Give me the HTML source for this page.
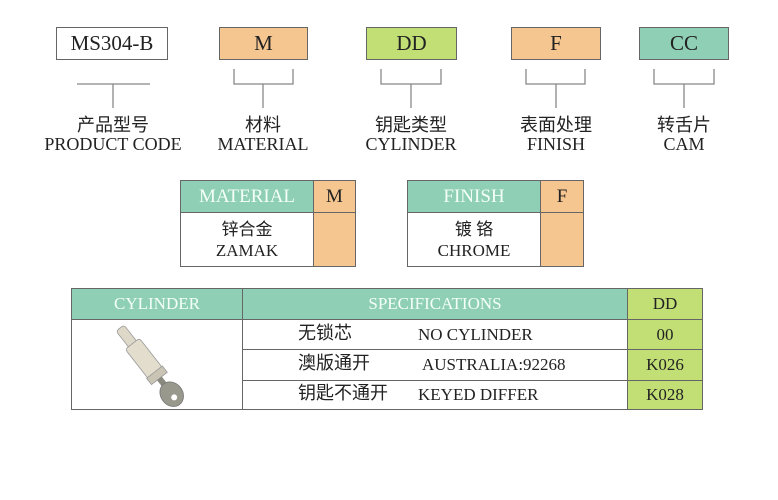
<!DOCTYPE html>
<html><head><meta charset="utf-8"><style>
body{margin:0;width:778px;height:500px;background:#fff;position:relative;overflow:hidden;font-family:"Liberation Serif","Noto Serif CJK SC",serif;color:#222}
.a{position:absolute;box-sizing:border-box;display:flex;align-items:center;justify-content:center;white-space:nowrap}
.cj{font-family:"Liberation Serif","Noto Sans CJK SC",sans-serif}
.bx{border:1px solid #666;font-size:21px}
.o{background:#f6c690}.g{background:#c2df76}.t{background:#8fcfb6}
.lbl{position:absolute;text-align:center;font-size:17px;line-height:19px;white-space:nowrap}
.c{text-align:center;font-size:17px;line-height:21px}
</style></head><body>
<svg width="778" height="500" style="position:absolute;left:0;top:0" fill="none" stroke="#888" stroke-width="1.3">
<path d="M77 84H150M113 84V108"/>
<path d="M234 69V84H293V69M263 84V108"/>
<path d="M381 69V84H441V69M411 84V108"/>
<path d="M526 69V84H585V69M556 84V108"/>
<path d="M654 69V84H714V69M684 84V108"/>
</svg>
<div class="a bx" style="left:56px;top:27px;width:112px;height:33px">MS304-B</div>
<div class="a bx o" style="left:219px;top:27px;width:89px;height:33px">M</div>
<div class="a bx g" style="left:366px;top:27px;width:91px;height:33px">DD</div>
<div class="a bx o" style="left:511px;top:27px;width:90px;height:33px">F</div>
<div class="a bx t" style="left:639px;top:27px;width:90px;height:33px">CC</div>

<div class="lbl cj" style="left:40px;width:146px;top:116px;font-size:18px">产品型号<br>PRODUCT CODE</div>
<div class="lbl cj" style="left:203px;width:120px;top:116px;font-size:18px">材料<br>MATERIAL</div>
<div class="lbl cj" style="left:351px;width:120px;top:116px;font-size:18px">钥匙类型<br>CYLINDER</div>
<div class="lbl cj" style="left:496px;width:120px;top:116px;font-size:18px">表面处理<br>FINISH</div>
<div class="lbl cj" style="left:624px;width:120px;top:116px;font-size:18px">转舌片<br>CAM</div>

<div class="a t" style="left:180px;top:180px;width:134px;height:33px;color:#f4fff8;font-size:19px;border:1px solid #666">MATERIAL</div>
<div class="a o" style="left:313px;top:180px;width:43px;height:33px;font-size:19px;border:1px solid #666">M</div>
<div class="a cj" style="left:180px;top:212px;width:134px;height:55px;border:1px solid #666"><div class="c">锌合金<br>ZAMAK</div></div>
<div class="a o" style="left:313px;top:212px;width:43px;height:55px;border:1px solid #666"></div>

<div class="a t" style="left:407px;top:180px;width:134px;height:33px;color:#f4fff8;font-size:19px;border:1px solid #666">FINISH</div>
<div class="a o" style="left:540px;top:180px;width:44px;height:33px;font-size:19px;border:1px solid #666">F</div>
<div class="a cj" style="left:407px;top:212px;width:134px;height:55px;border:1px solid #666"><div class="c">镀 铬<br>CHROME</div></div>
<div class="a o" style="left:540px;top:212px;width:44px;height:55px;border:1px solid #666"></div>

<div class="a t" style="left:71px;top:288px;width:172px;height:32px;border:1px solid #666;color:#f4fff8;font-size:17px">CYLINDER</div>
<div class="a t" style="left:242px;top:288px;width:386px;height:32px;border:1px solid #666;color:#f4fff8;font-size:17px">SPECIFICATIONS</div>
<div class="a g" style="left:627px;top:288px;width:76px;height:32px;border:1px solid #666;font-size:17px">DD</div>
<div class="a" style="left:71px;top:319px;width:172px;height:91px;border:1px solid #666"></div>
<div class="a" style="left:242px;top:319px;width:386px;height:31px;border:1px solid #666"></div>
<div class="a" style="left:242px;top:349px;width:386px;height:32px;border:1px solid #666"></div>
<div class="a" style="left:242px;top:380px;width:386px;height:30px;border:1px solid #666"></div>
<div class="a g" style="left:627px;top:319px;width:76px;height:31px;border:1px solid #666;font-size:17px">00</div>
<div class="a g" style="left:627px;top:349px;width:76px;height:32px;border:1px solid #666;font-size:17px">K026</div>
<div class="a g" style="left:627px;top:380px;width:76px;height:30px;border:1px solid #666;font-size:17px">K028</div>
<div class="lbl cj" style="left:298px;top:324px;text-align:left;font-size:18px">无锁芯</div>
<div class="lbl" style="left:418px;top:325px;text-align:left">NO CYLINDER</div>
<div class="lbl cj" style="left:298px;top:354px;text-align:left;font-size:18px">澳版通开</div>
<div class="lbl" style="left:422px;top:355px;text-align:left">AUSTRALIA:92268</div>
<div class="lbl cj" style="left:298px;top:384px;text-align:left;font-size:18px">钥匙不通开</div>
<div class="lbl" style="left:418px;top:385px;text-align:left">KEYED DIFFER</div>
<svg width="778" height="500" style="position:absolute;left:0;top:0">
<g transform="translate(120,328) rotate(52)">
<rect x="0" y="-5" width="22" height="10" rx="3" fill="#ddd8c8" stroke="#999" stroke-width=".8"/>
<rect x="20" y="-9" width="38" height="18" rx="3" fill="#e2ddcd" stroke="#999" stroke-width=".8"/>
<rect x="56" y="-10" width="8" height="20" fill="#c9c4b4" stroke="#999" stroke-width=".8"/>
<rect x="64" y="-3" width="10" height="6" fill="#8a8a80"/>
<ellipse cx="84" cy="0" rx="13" ry="11" fill="#98988c" stroke="#777" stroke-width=".8"/>
<circle cx="88" cy="0" r="3" fill="#fff"/>
</g>
</svg>
</body></html>
